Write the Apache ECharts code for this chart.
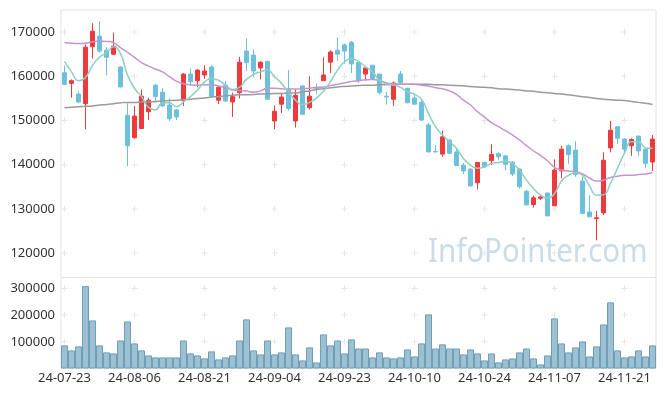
<!DOCTYPE html>
<html><head><meta charset="utf-8">
<script src="https://cdn.jsdelivr.net/npm/echarts@6/dist/echarts.min.js"></script>
<style>html,body{margin:0;padding:0;background:#fff}#c{width:665px;height:396px}</style>
</head><body><div id="c"></div>
<script>
const dates = ['24-07-23','24-07-24','24-07-25','24-07-26','24-07-29','24-07-30','24-07-31',
'24-08-01','24-08-02','24-08-05','24-08-06','24-08-07','24-08-08','24-08-09','24-08-12','24-08-13','24-08-14','24-08-16','24-08-19','24-08-20','24-08-21','24-08-22','24-08-23','24-08-26','24-08-27','24-08-28','24-08-29','24-08-30',
'24-09-02','24-09-03','24-09-04','24-09-05','24-09-06','24-09-09','24-09-10','24-09-11','24-09-12','24-09-13','24-09-19','24-09-20','24-09-23','24-09-24','24-09-25','24-09-26','24-09-27','24-09-30',
'24-10-02','24-10-04','24-10-07','24-10-08','24-10-10','24-10-11','24-10-14','24-10-15','24-10-16','24-10-17','24-10-18','24-10-21','24-10-22','24-10-23','24-10-24','24-10-25','24-10-28','24-10-29','24-10-30','24-10-31',
'24-11-01','24-11-04','24-11-05','24-11-06','24-11-07','24-11-08','24-11-11','24-11-12','24-11-13','24-11-14','24-11-15','24-11-18','24-11-19','24-11-20','24-11-21','24-11-22','24-11-25','24-11-26','24-11-27'];

const opens = [160800,158400,156000,153800,166700,169100,165900,165000,162100,151200,
146100,148200,152000,158000,156400,153500,152400,154500,160500,159000,
160300,162100,154600,158000,154200,156300,165700,164800,161900,163400,
149900,153700,157000,149900,157800,152900,157200,159000,163200,165900,
167100,167700,163100,160500,162500,160500,155500,154800,160500,157300,
155100,154100,149000,143000,142400,145600,142900,139900,139000,135900,
140500,140900,142500,142000,140600,139000,134000,131000,132400,133600,
130700,138600,144300,143300,136300,129300,127800,129100,143800,148600,
145800,144300,146500,143500,140600];
const closes = [158200,159000,154200,166600,170200,165700,164300,166800,157600,144300,
151000,155500,154600,155400,153300,150400,150800,160500,158800,161400,
161200,155500,157500,154400,155400,163200,163100,161200,163200,154800,
152100,155300,152700,155700,151400,155500,157000,160300,165500,165000,
165700,162800,159000,161900,159500,156300,155300,158500,158600,154000,
153700,150100,142900,142900,146300,142600,139800,138600,135200,140500,
139500,142300,141800,140100,137900,135000,130900,132500,132700,128400,
138800,143500,142300,137800,129000,128200,128000,141000,147800,146000,
143500,145700,143100,140300,145800];
const lows = [158000,155200,153900,148000,164000,165300,160200,164800,157500,139700,
145900,148100,150100,154000,153100,149900,150100,153300,157800,157500,
159400,155400,153700,154200,150800,155000,161200,159800,159300,154800,
148000,151700,152200,148400,151200,152500,155900,159000,160800,163500,
162800,160700,158500,159000,159300,155900,153600,153300,158200,153900,
153600,149900,142800,142700,141800,142400,139700,137900,135000,134400,
139400,139900,141000,138800,137400,134600,130900,130300,132000,128400,
130700,136900,140100,137300,128800,128200,122900,128600,142800,144700,
142600,142000,141900,139200,138600];
const highs = [162400,159300,156700,167200,172000,172500,166600,169900,162200,153900,
153300,157000,155200,158200,157300,155000,152600,160700,161800,161600,
162500,162500,157800,159000,156300,164400,168600,166100,163400,163400,
153400,156300,161400,157000,158000,160000,158400,164300,165900,168800,
167400,168000,163300,161900,162500,160500,156500,158800,161200,157400,
156100,154600,149500,144400,147700,145700,143800,140400,139200,140500,
140600,144600,142800,142000,140800,139200,134300,133000,133000,133600,
141200,144300,144600,145300,137300,133100,129500,142800,149900,148600,
146000,146000,146500,143700,146700];

const ma5 = [163300,161000,159000,159750,162500,164300,165300,166700,165200,160300,
157300,155400,153000,152400,154000,154000,153100,154200,155400,156900,
158700,159500,159100,158000,157000,157500,159300,160400,161000,161400,
159900,158400,156400,154600,153600,154100,155100,156600,158800,161400,
163300,164050,163400,162150,161000,159100,158200,158000,157500,156500,
155900,154800,151600,148600,146700,145200,143700,141400,139900,139200,
139500,140300,140500,140800,140300,138800,136500,134600,133100,132400,
133500,136300,137600,138200,137600,135200,133100,133200,135800,139200,
142600,145200,145200,143800,143700];
const ma20 = [167600,167500,167400,167500,167800,168000,167900,167600,166500,165400,
164300,163100,162300,161600,161000,159900,158900,158300,158100,158000,
158100,158100,157800,157400,156900,156800,156650,156400,156700,157300,
157300,157200,157100,157100,157200,157300,157500,157600,157900,158200,
158500,158800,159000,159200,159300,159000,158500,158300,158200,158200,
158200,158000,157800,157400,157200,156700,155900,154600,153500,152000,
150800,149500,148600,147700,146700,145600,144300,143100,142100,140900,
139400,138800,138600,138400,137900,137000,136300,136500,137100,137400,
137600,137600,137800,137900,138200];
const ma60 = [152900,153000,153100,153200,153300,153500,153600,153800,154000,154100,
154100,154200,154200,154300,154400,154500,154600,154700,154800,155000,
155100,155300,155400,155600,155700,155800,155800,155900,156000,156000,
156100,156100,156200,156200,156500,156700,157000,157200,157400,157600,
157700,157800,157900,158000,158000,158100,158100,158200,158200,158200,
158200,158200,158200,158100,158100,158000,157900,157850,157700,157600,
157500,157400,157200,157100,157000,156900,156700,156600,156400,156300,
156100,156000,155800,155600,155400,155200,155000,154800,154700,154600,
154500,154300,154100,153900,153600];

const volumes = [86500,67800,82800,308600,180000,86500,60300,56500,105000,176000,
94000,67800,49000,41600,41600,41600,41600,105000,56500,49000,
37800,64000,34000,41600,49000,105000,184000,67800,52800,105000,
52800,60300,154000,52800,30300,79000,22800,127700,86500,105000,
56500,109000,75000,75000,41600,60300,41600,37800,41600,71500,
45300,94000,202600,75000,90300,75000,75000,52800,71500,56500,
30300,56500,22800,34000,37800,60300,75000,37800,15400,49000,
187600,94000,60300,79000,101500,45300,82800,165000,247600,67800,
41600,45300,67800,45300,86500];

const priceTicks = [120000,130000,140000,150000,160000,170000];
const volTicks = [100000,200000,300000];
const labelEvery = 10;

const ohlc = opens.map((o,i)=>[o, closes[i], lows[i], highs[i]]);
const crossIdx = dates.map((d,i)=>i).filter(i=>i%labelEvery===0);
const priceCross = [], volCross = [];
crossIdx.forEach(i=>{ priceTicks.forEach(v=>priceCross.push([dates[i], v])); volTicks.forEach(v=>volCross.push([dates[i], v])); });

const crossPath = 'path://M2.5,0h1v2.5h2.5v1h-2.5v2.5h-1v-2.5h-2.5v-1h2.5z';
const font = 'Noto Sans';
const chart = echarts.init(document.getElementById('c'), null, {renderer:'canvas'});
chart.setOption({
  animation: false,
  textStyle: {fontFamily: font},
  grid: [
    {left: 61, right: 9, top: 10, height: 267.5, show: true, borderColor: '#e2e2e2', borderWidth: 1, backgroundColor: 'transparent'},
    {left: 61, right: 9, top: 277.5, height: 91, show: true, borderColor: '#e2e2e2', borderWidth: 1, backgroundColor: 'transparent'}
  ],
  xAxis: [
    {type: 'category', gridIndex: 0, data: dates, boundaryGap: true, axisLine: {show: false}, axisTick: {show: false}, axisLabel: {show: false}, splitLine: {show: false}},
    {type: 'category', gridIndex: 1, data: dates, boundaryGap: true, axisLine: {show: false}, axisTick: {show: false},
     axisLabel: {interval: labelEvery - 1, color: '#333', fontSize: 13, margin: 3, fontFamily: font}, splitLine: {show: false}}
  ],
  yAxis: [
    {type: 'value', gridIndex: 0, min: 114480, max: 175000, axisLine: {show: false}, axisTick: {show: false}, splitLine: {show: false},
     axisLabel: {customValues: priceTicks, color: '#333', fontSize: 13, margin: 6, fontFamily: font, formatter: v => String(Math.round(v))}},
    {type: 'value', gridIndex: 1, min: 0, max: 340800, interval: 100000, axisLine: {show: false}, axisTick: {show: false}, splitLine: {show: false},
     axisLabel: {color: '#333', fontSize: 13, margin: 6, fontFamily: font, showMaxLabel: false, formatter: v => v === 0 ? '' : String(v)}}
  ],
  graphic: [{type: 'text', left: 428, top: 237, z: 0, silent: true, scaleX: 0.92,
    style: {text: 'InfoPointer.com', font: '32px "Noto Sans"', fill: '#c9dce7'}}],
  series: [
    {type: 'scatter', xAxisIndex: 0, yAxisIndex: 0, data: priceCross, symbol: crossPath, symbolSize: 6, itemStyle: {color: '#e0e0e0'}, z: 1, silent: true},
    {type: 'scatter', xAxisIndex: 1, yAxisIndex: 1, data: volCross, symbol: crossPath, symbolSize: 6, itemStyle: {color: '#e0e0e0'}, z: 1, silent: true},
    {type: 'candlestick', xAxisIndex: 0, yAxisIndex: 0, data: ohlc, barWidth: 5, z: 3,
     itemStyle: {color: '#ee3a3d', color0: '#6cc0dc', borderColor: '#ee3a3d', borderColor0: '#6cc0dc', borderWidth: 1}},
    {type: 'line', xAxisIndex: 0, yAxisIndex: 0, data: ma60, smooth: true, showSymbol: false, z: 4, lineStyle: {color: '#9a9a9a', width: 1.5}},
    {type: 'line', xAxisIndex: 0, yAxisIndex: 0, data: ma20, smooth: true, showSymbol: false, z: 4, lineStyle: {color: '#c994c9', width: 1.5}},
    {type: 'line', xAxisIndex: 0, yAxisIndex: 0, data: ma5, smooth: true, showSymbol: false, z: 4, lineStyle: {color: '#8ecfc1', width: 1.5}},
    {type: 'bar', xAxisIndex: 1, yAxisIndex: 1, data: volumes, barWidth: '100%', barCategoryGap: 0, z: 3,
     itemStyle: {color: '#9dc1d2', borderColor: '#6f9fb6', borderWidth: 1}}
  ]
});
</script></body></html>
